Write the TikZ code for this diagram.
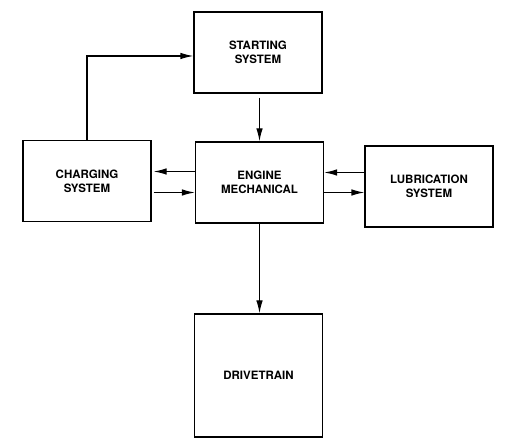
\documentclass[tikz,border=0pt]{standalone}
\usepackage{fontspec}
\setmainfont{TeX Gyre Heros}
\usetikzlibrary{arrows.meta}

\begin{document}
\begin{tikzpicture}[x=1pt,y=-1pt,
     blk/.style={draw,line width=1.2pt,align=center,inner sep=0pt,
      minimum width=128pt,minimum height=81pt,
      font=\fontsize{11.5}{14}\selectfont\bfseries},
     link/.style={line width=1.2pt,-{Latex[length=13pt,width=6.5pt]}}]
     \useasboundingbox (0,0) rectangle (511,443);
     \node[blk] (start) at (258,52.5)  {STARTING\\SYSTEM};
     \node[blk] (chg)   at (87,181)    {CHARGING\\SYSTEM};
     \node[blk] (eng)   at (259.5,182.5) {ENGINE\\MECHANICAL};
     \node[blk] (lub)   at (429,186.5) {LUBRICATION\\SYSTEM};
     \node[blk,minimum height=123pt] (drive) at (258.5,375.5) {DRIVETRAIN};
     % charging feeds the starter
     \draw[link] (chg.north) |- ([yshift=-3.5pt]start.west);
     \draw[link,shorten <=4pt] (start.south -| eng.north) -- (eng.north);
     % engine <-> charging
     \draw[link,shorten >=2pt] ([yshift=11pt]eng.west)
      -- ([yshift=11pt]eng.west -| chg.east);
     \draw[link,shorten <=2pt] ([yshift=-10pt]eng.west -| chg.east)
      -- ([yshift=-10pt]eng.west);
     % engine <-> lubrication
     \draw[link] ([yshift=10pt]eng.east -| lub.west)
      -- ([yshift=10pt]eng.east);
     \draw[link] ([yshift=-10pt]eng.east)
      -- ([yshift=-10pt]eng.east -| lub.west);
     \draw[link] (eng.south) -- (eng.south |- drive.north);
    \end{tikzpicture}
\end{document}
